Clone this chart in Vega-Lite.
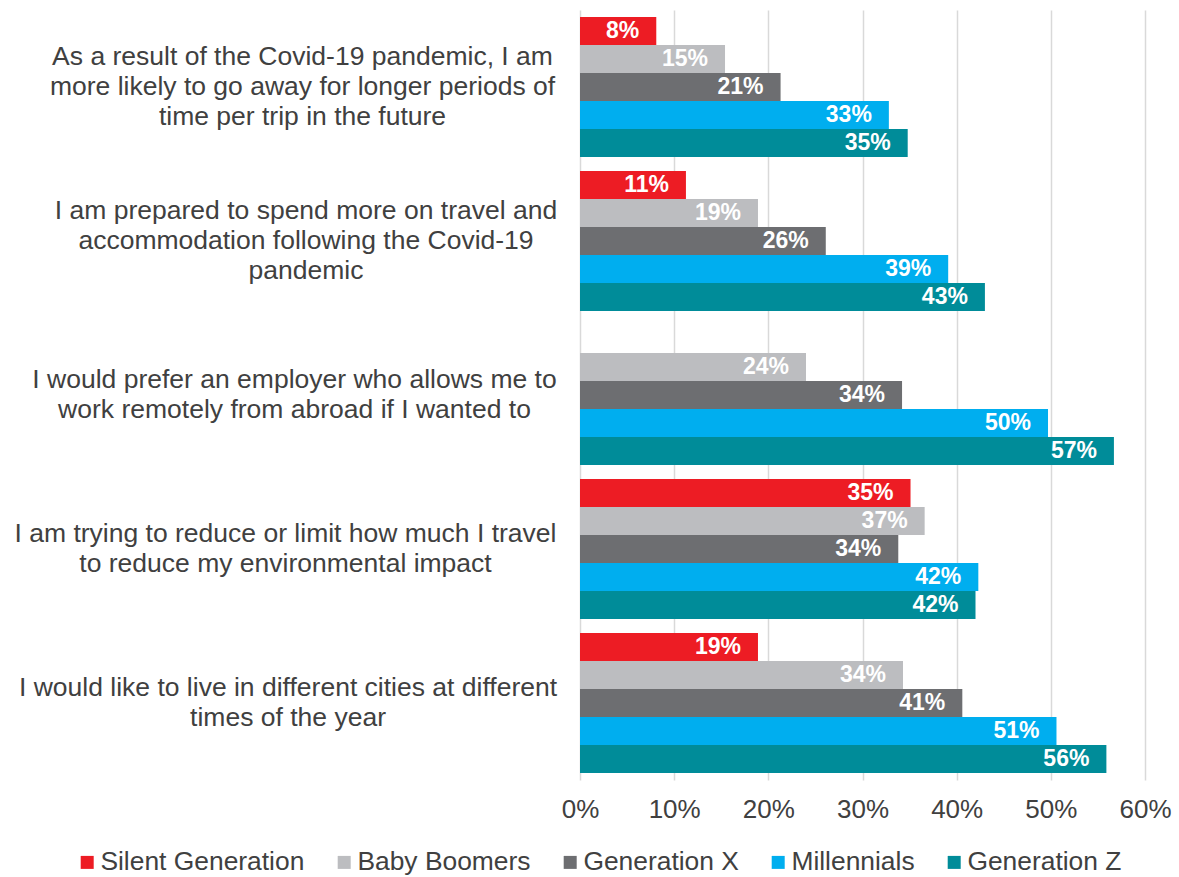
{
  "$schema": "https://vega.github.io/schema/vega-lite/v6.json",
  "width": 565,
  "height": 770,
  "autosize": {"type": "none"},
  "padding": {"left": 580, "top": 10, "right": 34, "bottom": 97},
  "background": "white",
  "config": {"view": {"stroke": null}, "font": "Liberation Sans"},
  "data": {
    "values": [
      {"statement": "As a result of the Covid-19 pandemic, I am|more likely to go away for longer periods of|time per trip in the future", "generation": "Silent Generation", "share": 0.081},
      {"statement": "As a result of the Covid-19 pandemic, I am|more likely to go away for longer periods of|time per trip in the future", "generation": "Baby Boomers", "share": 0.154},
      {"statement": "As a result of the Covid-19 pandemic, I am|more likely to go away for longer periods of|time per trip in the future", "generation": "Generation X", "share": 0.213},
      {"statement": "As a result of the Covid-19 pandemic, I am|more likely to go away for longer periods of|time per trip in the future", "generation": "Millennials", "share": 0.328},
      {"statement": "As a result of the Covid-19 pandemic, I am|more likely to go away for longer periods of|time per trip in the future", "generation": "Generation Z", "share": 0.348},
      {"statement": "I am prepared to spend more on travel and|accommodation following the Covid-19|pandemic", "generation": "Silent Generation", "share": 0.1125},
      {"statement": "I am prepared to spend more on travel and|accommodation following the Covid-19|pandemic", "generation": "Baby Boomers", "share": 0.189},
      {"statement": "I am prepared to spend more on travel and|accommodation following the Covid-19|pandemic", "generation": "Generation X", "share": 0.261},
      {"statement": "I am prepared to spend more on travel and|accommodation following the Covid-19|pandemic", "generation": "Millennials", "share": 0.391},
      {"statement": "I am prepared to spend more on travel and|accommodation following the Covid-19|pandemic", "generation": "Generation Z", "share": 0.43},
      {"statement": "I would prefer an employer who allows me to|work remotely from abroad if I wanted to", "generation": "Baby Boomers", "share": 0.24},
      {"statement": "I would prefer an employer who allows me to|work remotely from abroad if I wanted to", "generation": "Generation X", "share": 0.342},
      {"statement": "I would prefer an employer who allows me to|work remotely from abroad if I wanted to", "generation": "Millennials", "share": 0.497},
      {"statement": "I would prefer an employer who allows me to|work remotely from abroad if I wanted to", "generation": "Generation Z", "share": 0.567},
      {"statement": "I am trying to reduce or limit how much I travel|to reduce my environmental impact", "generation": "Silent Generation", "share": 0.351},
      {"statement": "I am trying to reduce or limit how much I travel|to reduce my environmental impact", "generation": "Baby Boomers", "share": 0.366},
      {"statement": "I am trying to reduce or limit how much I travel|to reduce my environmental impact", "generation": "Generation X", "share": 0.338},
      {"statement": "I am trying to reduce or limit how much I travel|to reduce my environmental impact", "generation": "Millennials", "share": 0.423},
      {"statement": "I am trying to reduce or limit how much I travel|to reduce my environmental impact", "generation": "Generation Z", "share": 0.42},
      {"statement": "I would like to live in different cities at different|times of the year", "generation": "Silent Generation", "share": 0.189},
      {"statement": "I would like to live in different cities at different|times of the year", "generation": "Baby Boomers", "share": 0.343},
      {"statement": "I would like to live in different cities at different|times of the year", "generation": "Generation X", "share": 0.406},
      {"statement": "I would like to live in different cities at different|times of the year", "generation": "Millennials", "share": 0.506},
      {"statement": "I would like to live in different cities at different|times of the year", "generation": "Generation Z", "share": 0.559}
    ]
  },
  "encoding": {
    "y": {
      "field": "statement",
      "type": "nominal",
      "sort": null,
      "scale": {"paddingInner": 0.0909, "paddingOuter": 0.04545},
      "axis": {
        "title": null,
        "labelExpr": "split(datum.label, '|')",
        "labelAlign": "center",
        "labelBaseline": "middle",
        "labelPadding": {
          "condition": [
            {"test": "indexof(datum.value, 'As a result') === 0", "value": 278},
            {"test": "indexof(datum.value, 'I am prepared') === 0", "value": 274.5},
            {"test": "indexof(datum.value, 'I would prefer') === 0", "value": 286},
            {"test": "indexof(datum.value, 'I am trying') === 0", "value": 295}
          ],
          "value": 292.5
        },
        "labelOffset": {
          "condition": {"test": "indexof(datum.value, '|') !== lastindexof(datum.value, '|')", "value": -30},
          "value": -15
        },
        "labelFontSize": 26.5,
        "labelLineHeight": 30,
        "labelLimit": 700,
        "labelColor": "#404040",
        "ticks": false,
        "domain": false,
        "grid": false
      }
    },
    "yOffset": {
      "field": "generation",
      "type": "nominal",
      "sort": ["Silent Generation", "Baby Boomers", "Generation X", "Millennials", "Generation Z"],
      "scale": {"paddingInner": 0, "paddingOuter": 0}
    },
    "x": {
      "field": "share",
      "type": "quantitative",
      "scale": {"domain": [0, 0.6]},
      "axis": {
        "title": null,
        "values": [0, 0.1, 0.2, 0.3, 0.4, 0.5, 0.6],
        "format": ".0%",
        "labelFontSize": 26,
        "labelColor": "#404040",
        "labelPadding": 16,
        "labelFlush": false,
        "ticks": false,
        "domain": false,
        "grid": true,
        "gridColor": "#D9D9D9",
        "gridWidth": 1.5
      }
    }
  },
  "layer": [
    {
      "mark": {"type": "bar"},
      "encoding": {
        "color": {
          "field": "generation",
          "type": "nominal",
          "sort": ["Silent Generation", "Baby Boomers", "Generation X", "Millennials", "Generation Z"],
          "scale": {
            "domain": ["Silent Generation", "Baby Boomers", "Generation X", "Millennials", "Generation Z"],
            "range": ["#ED1C24", "#BCBDC0", "#6D6E71", "#00AEEF", "#008C99"]
          },
          "legend": {
            "orient": "none",
            "legendX": -506,
            "legendY": 839,
            "direction": "horizontal",
            "columns": 5,
            "title": null,
            "symbolType": "square",
            "symbolSize": 169,
            "symbolStrokeWidth": 0,
            "labelFontSize": 26.4,
            "labelColor": "#404040",
            "labelOffset": 0,
            "columnPadding": 26,
            "padding": 0,
            "labelLimit": 400
          }
        }
      }
    },
    {
      "mark": {"type": "text", "align": "right", "dx": -17, "baseline": "middle", "fill": "white", "fontSize": 23, "fontWeight": "bold"},
      "encoding": {"text": {"field": "share", "type": "quantitative", "format": ".0%"}}
    }
  ]
}
